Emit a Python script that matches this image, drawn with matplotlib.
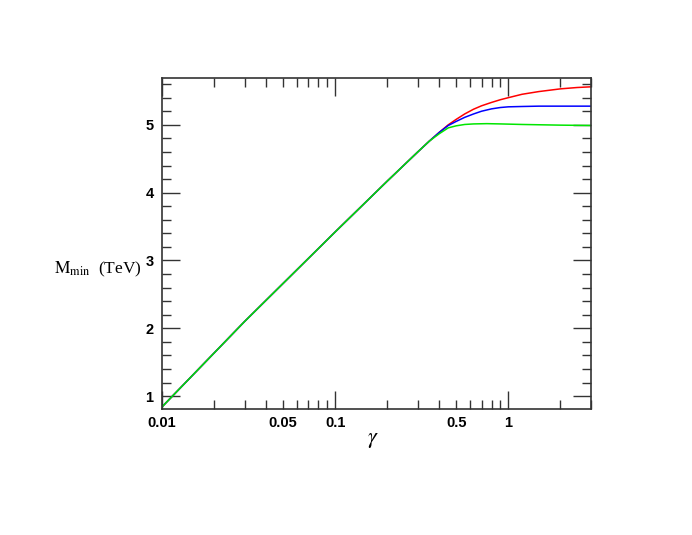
import matplotlib
matplotlib.use("Agg")
import matplotlib.pyplot as plt
from matplotlib.ticker import FixedLocator, NullFormatter, MultipleLocator

# shared rising part
gamma_common = [0.01, 0.03, 0.1, 0.2, 0.3, 0.35]
m_common = [0.84, 2.10, 3.42, 4.17, 4.60, 4.76]

gamma_red = [0.4, 0.45, 0.5, 0.56, 0.63, 0.7, 0.8, 0.9, 1.0, 1.2, 1.5, 2.0, 2.5, 3.0]
m_red = [4.89, 5.00, 5.08, 5.16, 5.23, 5.28, 5.33, 5.37, 5.40, 5.45, 5.49, 5.53, 5.55, 5.56]

gamma_blue = [0.4, 0.45, 0.5, 0.56, 0.63, 0.7, 0.8, 0.9, 1.0, 1.2, 1.5, 3.0]
m_blue = [4.89, 4.99, 5.05, 5.11, 5.16, 5.20, 5.235, 5.255, 5.265, 5.27, 5.275, 5.275]

gamma_green = [0.4, 0.45, 0.5, 0.56, 0.63, 0.75, 0.9, 1.2, 2.0, 3.0]
m_green = [4.87, 4.955, 4.985, 5.005, 5.013, 5.017, 5.013, 5.005, 4.995, 4.99]

curves = [(gamma_red, m_red, "#ff0000"),
          (gamma_blue, m_blue, "#0000ff"),
          (gamma_green, m_green, "#00e600")]

xticks = [0.01, 0.05, 0.1, 0.5, 1]
xticklabels = ["0.01", "0.05", "0.1", "0.5", "1"]
yticks = [1, 2, 3, 4, 5]

fig = plt.figure(figsize=(6.92, 5.35), dpi=100)
ax = fig.add_axes([0.234, 0.2355, 0.620, 0.6187])

for gx, my, color in curves:
    ax.plot(gamma_common + gx, m_common + my, color=color, lw=1.1)

ax.set_xscale("log")
ax.set_xlim(0.01, 3.0)
ax.set_ylim(0.81, 5.69)

ax.xaxis.set_major_locator(FixedLocator([0.01, 0.1, 1]))
minor_x = [k * 10.0 ** e for e in (-2, -1, 0) for k in range(2, 10)]
ax.xaxis.set_minor_locator(FixedLocator(minor_x))
ax.xaxis.set_major_formatter(NullFormatter())
ax.xaxis.set_minor_formatter(NullFormatter())
ax.yaxis.set_major_locator(FixedLocator(yticks))
ax.yaxis.set_minor_locator(MultipleLocator(0.2))

ax.tick_params(which="both", direction="in", top=True, right=True,
               labelbottom=False, labelleft=True, width=1.0, color="#333333")
ax.tick_params(which="major", length=13)
ax.tick_params(which="minor", length=6.5)
for sp in ax.spines.values():
    sp.set_linewidth(1.2)
    sp.set_color("#333333")

tfont = dict(family="Liberation Sans", weight="bold", size=10.5)
for v, s in zip(xticks, xticklabels):
    ax.text(v, -0.022, s, transform=ax.get_xaxis_transform(),
            ha="center", va="top", **tfont)
ax.set_yticklabels([str(v) for v in yticks], **tfont)
ax.tick_params(axis="y", pad=6)

fig.text(0.539, 0.178, r"$\gamma$", ha="center", va="center", fontsize=16,
         math_fontfamily="stix")
fig.text(0.142, 0.497, r"$\mathrm{M_{min}}$  (TeV)", ha="center", va="center",
         family="Liberation Serif", fontsize=12.5,
         math_fontfamily="stix")

fig.savefig("out.png", dpi=100)
